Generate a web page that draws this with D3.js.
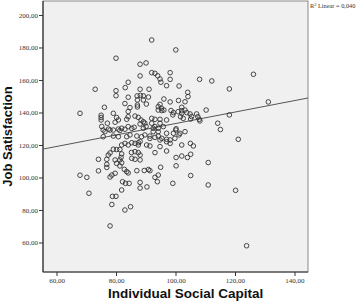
<!DOCTYPE html>
<html>
<head>
<meta charset="utf-8">
<script src="https://cdn.jsdelivr.net/npm/d3@7"></script>
<style>
  html, body { margin: 0; padding: 0; background: #fff; }
  svg { display: block; }
</style>
</head>
<body>
<div id="chart"></div>
<script>
// Individual Social Capital (x) and Job Satisfaction (y)
const socialCapital = [
  92.0, 100.1, 80.0, 88.1, 90.1, 88.1, 92.0, 93.1, 94.0, 94.8, 95.1, 98.2, 98.2, 84.1, 83.1, 97.0,
  101.2, 108.1, 112.2, 126.2, 118.1, 73.0, 80.0, 80.0, 88.1, 91.1, 104.1, 104.2, 84.1, 87.1, 88.2, 89.2,
  87.2, 89.2, 90.9, 83.0, 96.1, 98.2, 101.0, 103.2, 131.2, 87.2, 87.2, 90.2, 94.8, 94.2, 95.3, 76.1,
  102.1, 84.7, 84.1, 94.2, 95.4, 96.1, 98.5, 99.3, 99.1, 100.9, 102.1, 102.1, 103.2, 110.3, 67.9, 79.1,
  80.2, 80.8, 75.0, 75.0, 75.0, 83.6, 84.1, 86.4, 87.5, 88.4, 89.2, 92.0, 93.1, 94.8, 97.0, 101.7,
  102.6, 103.8, 104.9, 105.4, 107.1, 107.5, 108.0, 108.2, 105.1, 118.1, 114.2, 115.1, 77.1, 79.7, 75.2, 77.5,
  80.8, 81.9, 83.0, 85.3, 84.1, 86.1, 88.1, 89.2, 90.1, 89.7, 92.0, 93.1, 94.8, 92.5, 94.2, 95.9,
  100.2, 75.7, 76.3, 78.0, 79.1, 81.3, 92.5, 94.2, 97.0, 99.3, 100.1, 101.5, 103.2, 75.7, 79.1, 80.8,
  83.6, 84.7, 87.0, 88.6, 89.7, 91.4, 93.1, 94.8, 97.0, 98.2, 98.2, 97.0, 99.8, 101.2, 83.0, 84.1,
  85.3, 86.4, 87.5, 87.5, 88.1, 90.3, 81.9, 91.4, 94.8, 102.1, 105.0, 106.0, 121.1, 95.4, 94.2, 91.4,
  79.1, 80.2, 81.3, 78.0, 77.4, 81.9, 81.7, 81.3, 81.9, 81.3, 85.2, 86.4, 87.5, 88.1, 85.3, 86.4,
  88.1, 93.1, 97.0, 102.1, 104.0, 105.1, 74.1, 76.9, 76.9, 76.9, 79.7, 80.2, 100.2, 100.2, 111.0, 74.1,
  82.8, 83.6, 84.1, 87.0, 89.5, 90.9, 95.0, 91.4, 79.7, 78.6, 78.0, 67.9, 70.2, 94.2, 93.1, 93.9,
  105.1, 82.2, 83.2, 84.4, 88.1, 99.1, 111.0, 81.9, 88.1, 90.4, 70.9, 78.8, 80.0, 78.6, 83.0, 84.9,
  78.0, 120.2, 123.9
];
const jobSatisfaction = [
  184.6, 178.5, 173.4, 169.7, 170.5, 162.5, 164.5, 164.1, 162.6, 160.6, 158.6, 164.5, 160.4, 158.6, 155.3, 156.5,
  156.3, 160.4, 159.4, 163.5, 154.5, 154.3, 153.4, 150.3, 154.3, 154.3, 152.4, 149.8, 149.4, 150.2, 150.5, 150.2,
  147.7, 147.7, 149.5, 145.5, 148.3, 146.5, 147.4, 146.6, 146.5, 144.6, 143.4, 145.2, 145.0, 143.6, 142.6, 143.2,
  143.2, 143.0, 140.6, 141.5, 141.2, 141.5, 141.2, 139.9, 138.5, 140.5, 141.1, 139.5, 141.5, 141.5, 139.5, 139.5,
  136.9, 135.4, 138.3, 136.9, 135.4, 135.8, 137.4, 137.8, 137.0, 135.4, 134.3, 136.4, 135.8, 135.8, 135.4, 137.4,
  136.4, 139.9, 139.1, 137.5, 139.1, 137.4, 135.8, 134.8, 136.0, 138.5, 133.4, 129.5, 133.4, 134.0, 131.4, 129.8,
  129.8, 130.3, 129.7, 130.2, 131.3, 130.9, 132.9, 130.3, 131.4, 133.4, 133.4, 131.3, 133.4, 130.3, 130.3, 131.3,
  130.0, 129.2, 128.2, 129.2, 129.2, 128.9, 128.2, 128.2, 127.2, 127.2, 129.2, 127.2, 128.2, 125.1, 125.5, 125.1,
  125.1, 126.2, 125.5, 125.1, 126.2, 125.5, 124.7, 123.1, 123.5, 123.1, 121.0, 122.0, 124.1, 126.2, 121.0, 120.0,
  121.4, 121.0, 121.4, 120.0, 122.2, 120.0, 120.0, 119.4, 119.0, 120.0, 121.0, 119.4, 123.5, 124.1, 125.5, 124.0,
  117.4, 117.2, 117.2, 115.1, 113.8, 114.5, 112.4, 110.8, 109.1, 107.1, 115.4, 115.9, 115.3, 113.8, 111.8, 111.2,
  110.8, 115.3, 116.3, 113.2, 112.3, 114.3, 111.2, 111.2, 108.1, 106.2, 110.8, 108.7, 112.3, 107.2, 109.2, 104.1,
  105.0, 103.6, 102.8, 104.2, 104.3, 104.9, 106.3, 104.2, 102.6, 101.5, 100.3, 101.4, 100.1, 101.5, 100.1, 97.4,
  101.2, 97.4, 96.4, 96.4, 97.0, 96.4, 95.4, 92.3, 93.5, 94.2, 90.3, 88.4, 88.4, 83.4, 80.0, 82.0,
  70.2, 92.1, 58.0
];

// linear fit line shown in the chart
const fitIntercept = 97.9;
const fitSlope = 0.353;
const fitLabel = "Linear = 0,040";

const xTicks = [60, 80, 100, 120, 140];
const yTicks = [60, 80, 100, 120, 140, 160, 180, 200];

const width = 358, height = 301;
const plot = { left: 43, right: 308, top: 1, bottom: 272 };

const svg = d3.select("#chart").append("svg")
    .attr("width", width)
    .attr("height", height);

const x = d3.scaleLinear()
    .domain([55.46, 144.54])
    .range([plot.left, plot.right]);

const y = d3.scaleLinear()
    .domain([41.85, 208.6])
    .range([plot.bottom, plot.top]);

const fmt = d => d3.format(".2f")(d).replace(".", ",");

// plot background + frame
svg.append("rect")
    .attr("x", plot.left)
    .attr("y", plot.top)
    .attr("width", plot.right - plot.left)
    .attr("height", plot.bottom - plot.top)
    .attr("fill", "#f0f0f0")
    .attr("stroke", "#8a8a8a")
    .attr("stroke-width", 1);

// axes
const xAxis = svg.append("g")
    .attr("transform", "translate(0," + plot.bottom + ")")
    .call(d3.axisBottom(x).tickValues(xTicks).tickFormat(fmt).tickSize(4).tickPadding(2));

const yAxis = svg.append("g")
    .attr("transform", "translate(" + plot.left + ",0)")
    .call(d3.axisLeft(y).tickValues(yTicks).tickFormat(fmt).tickSize(4).tickPadding(1));

[xAxis, yAxis].forEach(g => {
    g.select(".domain").attr("stroke", "#333").attr("stroke-width", 1.2);
    g.selectAll(".tick line").attr("stroke", "#333");
    g.selectAll(".tick text")
        .attr("fill", "#333")
        .style("font-family", "'Liberation Serif', 'DejaVu Serif', serif")
        .style("font-size", "7px");
});
xAxis.select(".domain").attr("d", "M" + plot.left + ",0H" + plot.right);
yAxis.select(".domain").attr("d", "M0," + plot.top + "V" + plot.bottom);

// fit line
svg.append("line")
    .attr("x1", x(x.domain()[0]))
    .attr("y1", y(fitIntercept + fitSlope * x.domain()[0]))
    .attr("x2", x(x.domain()[1]))
    .attr("y2", y(fitIntercept + fitSlope * x.domain()[1]))
    .attr("stroke", "#555")
    .attr("stroke-width", 1);

// points
const points = socialCapital.map((v, i) => ({ x: v, y: jobSatisfaction[i] }));
svg.append("g")
    .selectAll("circle")
    .data(points)
    .enter()
    .append("circle")
    .attr("cx", d => x(d.x))
    .attr("cy", d => y(d.y))
    .attr("r", 2.3)
    .attr("fill", "none")
    .attr("stroke", "#333")
    .attr("stroke-width", 0.9);

// R² label
const r2 = svg.append("text")
    .attr("x", plot.right + 2)
    .attr("y", 8)
    .attr("fill", "#333")
    .style("font-family", "'Liberation Serif', 'DejaVu Serif', serif")
    .style("font-size", "6.3px");
r2.append("tspan").text("R");
r2.append("tspan").attr("dy", -2).style("font-size", "4.5px").text("2");
r2.append("tspan").attr("dy", 2).text(" " + fitLabel);

// axis titles
svg.append("text")
    .attr("x", 108)
    .attr("y", 298)
    .style("font-family", "'Liberation Sans', Arial, sans-serif")
    .style("font-weight", "bold")
    .style("font-size", "13.5px")
    .attr("fill", "#111")
    .text("Individual Social Capital");

svg.append("text")
    .attr("transform", "translate(12," + ((plot.top + plot.bottom) / 2) + ") rotate(-90)")
    .attr("text-anchor", "middle")
    .style("font-family", "'Liberation Sans', Arial, sans-serif")
    .style("font-weight", "bold")
    .style("font-size", "13px")
    .attr("fill", "#111")
    .text("Job Satisfaction");
</script>
</body>
</html>
